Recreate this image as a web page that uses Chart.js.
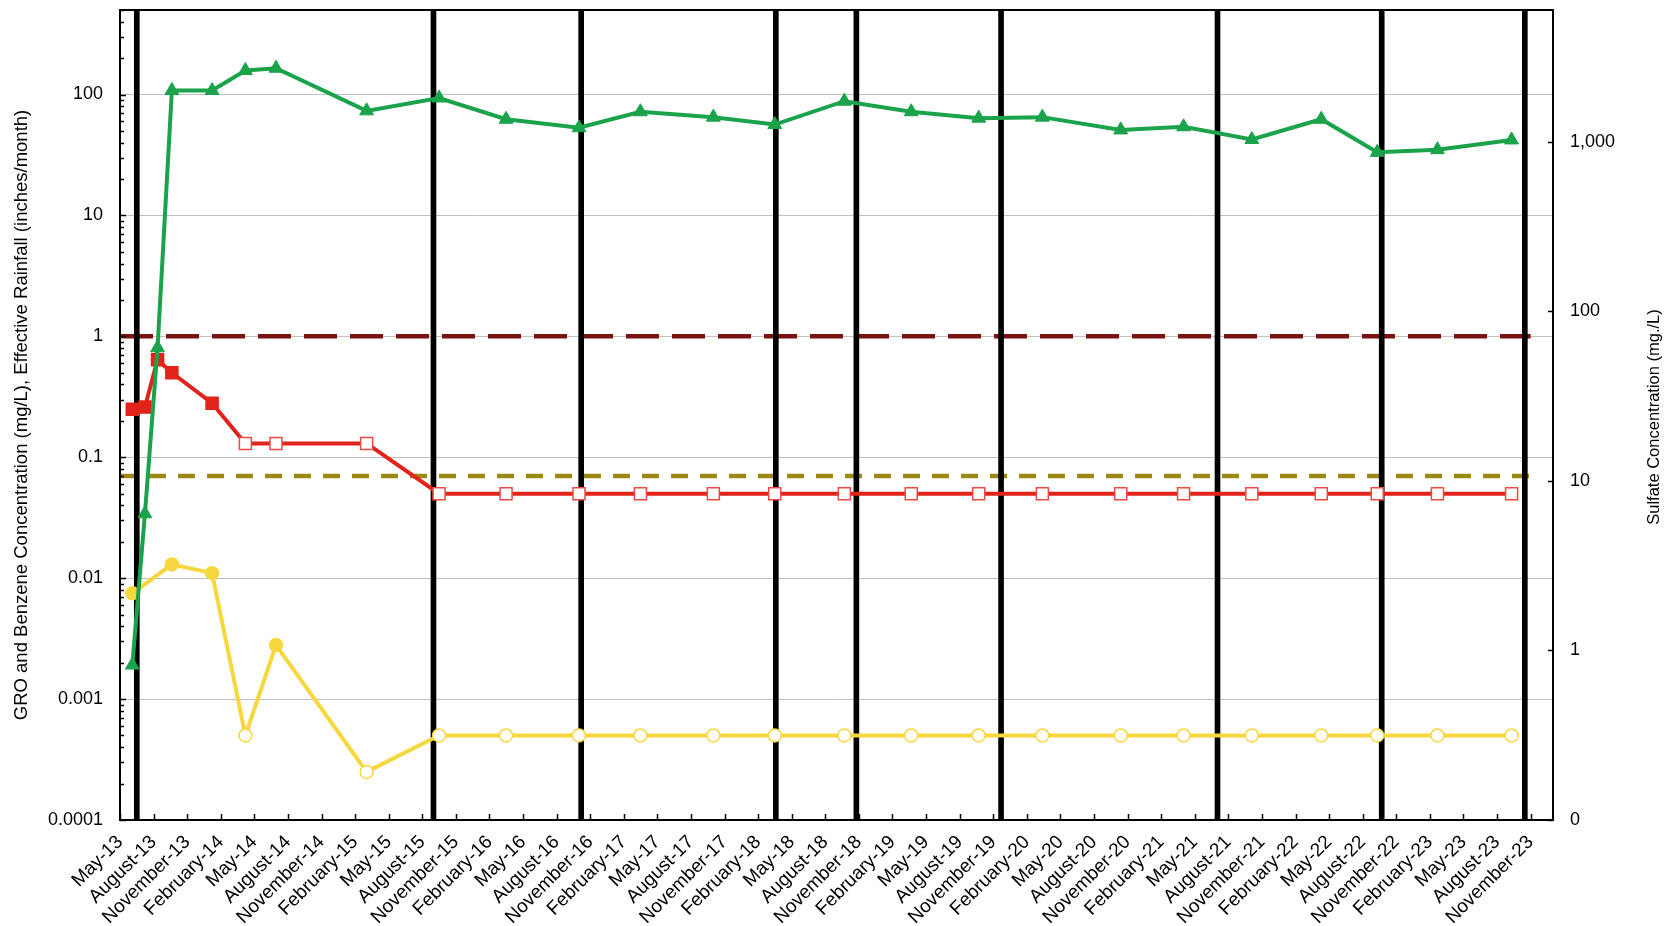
<!DOCTYPE html>
<html>
<head>
<meta charset="utf-8">
<script src="https://cdn.jsdelivr.net/npm/chart.js@4/dist/chart.umd.min.js"></script>
<style>
  html, body { margin: 0; padding: 0; background: #fff; }
  #wrap { width: 1672px; height: 926px; position: relative; }
</style>
</head>
<body>
<div id="wrap"><canvas id="chart" width="1672" height="926"></canvas></div>
<script>
// Monitoring-well sampling events
const sampleDates = [
  '2013-06-04', '2013-07-08', '2013-08-12', '2013-09-20', '2014-01-08',
  '2014-04-07', '2014-06-29', '2015-03-02', '2015-09-16', '2016-03-16',
  '2016-10-01', '2017-03-16', '2017-10-01', '2018-03-16', '2018-09-22',
  '2019-03-22', '2019-09-22', '2020-03-13', '2020-10-13', '2021-04-01',
  '2021-10-04', '2022-04-10', '2022-09-10', '2023-02-20', '2023-09-10'
];

// GRO (mg/L); false = not detected, plotted at the reporting limit
const groValues = [
  0.25, 0.26, 0.64, 0.5, 0.28, 0.13, 0.13, 0.13, 0.05, 0.05,
  0.05, 0.05, 0.05, 0.05, 0.05, 0.05, 0.05, 0.05, 0.05, 0.05,
  0.05, 0.05, 0.05, 0.05, 0.05
];
const groDetected = [
  true, true, true, true, true, false, false, false, false, false,
  false, false, false, false, false, false, false, false, false, false,
  false, false, false, false, false
];

// Benzene (mg/L)
const benzeneValues = [
  0.0075, null, null, 0.013, 0.011, 0.0005, 0.0028, 0.00025, 0.0005, 0.0005,
  0.0005, 0.0005, 0.0005, 0.0005, 0.0005, 0.0005, 0.0005, 0.0005, 0.0005, 0.0005,
  0.0005, 0.0005, 0.0005, 0.0005, 0.0005
];
const benzeneDetected = [
  true, false, false, true, true, false, true, false, false, false,
  false, false, false, false, false, false, false, false, false, false,
  false, false, false, false, false
];

// Sulfate (mg/L), right axis
const sulfateValues = [
  0.82, 6.4, 61, 2010, 2010, 2640, 2720, 1525, 1815, 1360,
  1212, 1506, 1400, 1266, 1738, 1506, 1380, 1400, 1177, 1228,
  1033, 1360, 868, 900, 1027
];

// Effective rainfall (inches/month) – months that run off the top of the axis
const rainfallDates = [
  '2013-06-16', '2015-09-01', '2016-10-07', '2018-03-19', '2018-10-25',
  '2019-11-22', '2021-07-02', '2022-09-22', '2023-10-16'
];
const rainfallValues = [500, 500, 500, 500, 500, 500, 500, 500, 500];

// Reference levels (mg/L)
const groLevel = 1;
const benzeneLevel = 0.07;
const levelSpan = ['2013-05-01', '2023-11-01'];

// Axis labels
const quarterLabels = [
  'May-13', 'August-13', 'November-13', 'February-14', 'May-14', 'August-14',
  'November-14', 'February-15', 'May-15', 'August-15', 'November-15', 'February-16',
  'May-16', 'August-16', 'November-16', 'February-17', 'May-17', 'August-17',
  'November-17', 'February-18', 'May-18', 'August-18', 'November-18', 'February-19',
  'May-19', 'August-19', 'November-19', 'February-20', 'May-20', 'August-20',
  'November-20', 'February-21', 'May-21', 'August-21', 'November-21', 'February-22',
  'May-22', 'August-22', 'November-22', 'February-23', 'May-23', 'August-23',
  'November-23'
];
const leftTicks = [0.0001, 0.001, 0.01, 0.1, 1, 10, 100];
const leftTickLabels = ['0.0001', '0.001', '0.01', '0.1', '1', '10', '100'];
const rightTicks = [0.1, 1, 10, 100, 1000];
const rightTickLabels = ['0', '1', '10', '100', '1,000'];

const leftTitle = 'GRO and Benzene Concentration (mg/L), Effective Rainfall (inches/month)';
const rightTitle = 'Sulfate Concentration (mg./L)';

// months elapsed since 1 May 2013
function monthIndex(d) {
  const [y, m, day] = d.split('-').map(Number);
  const dim = new Date(y, m, 0).getDate();
  return (y - 2013) * 12 + (m - 5) + (day - 1) / dim;
}
const xs = sampleDates.map(monthIndex);
const pts = (vals) => vals.map((v, i) => ({ x: xs[i], y: v }));

const FONT = '"Liberation Sans", Arial, sans-serif';
const GREEN = '#1AA34A';
const RED = '#E2231A';
const YELLOW = '#F7D73F';
const DARKRED = '#7A1212';
const OLIVE = '#9C8A14';

const frameAndTicks = {
  id: 'frameAndTicks',
  afterDraw(chart) {
    const { ctx, chartArea: a } = chart;
    const yl = chart.scales.y, yr = chart.scales.ySulfate, x = chart.scales.x;
    ctx.save();
    ctx.strokeStyle = '#000';
    ctx.lineWidth = 1.5;
    ctx.beginPath();
    // left axis: minor ticks inside
    for (let e = -4; e <= 2; e++) {
      for (let k = 1; k <= 9; k++) {
        const v = k * Math.pow(10, e);
        if (v > yl.max * 1.0001) continue;
        const py = Math.round(yl.getPixelForValue(v)) + 0.5;
        ctx.moveTo(a.left, py);
        ctx.lineTo(a.left + (k === 1 ? 6 : 4), py);
      }
    }
    // right axis ticks inside
    rightTicks.forEach(v => {
      const py = Math.round(yr.getPixelForValue(v)) + 0.5;
      ctx.moveTo(a.right, py);
      ctx.lineTo(a.right - 5, py);
    });
    // bottom axis ticks inside
    quarterLabels.forEach((_, i) => {
      const px = Math.round(x.getPixelForValue(i * 3)) + 0.5;
      ctx.moveTo(px, a.bottom);
      ctx.lineTo(px, a.bottom - 6);
    });
    ctx.stroke();
    ctx.lineWidth = 2;
    ctx.strokeRect(Math.round(a.left), Math.round(a.top), Math.round(a.right - a.left), Math.round(a.bottom - a.top));
    // right axis title, reading upward
    ctx.fillStyle = '#000';
    ctx.font = '16.5px ' + FONT;
    ctx.textAlign = 'center';
    ctx.textBaseline = 'alphabetic';
    ctx.translate(1659, 417);
    ctx.rotate(-Math.PI / 2);
    ctx.fillText(rightTitle, 0, 0);
    ctx.restore();
  }
};

new Chart(document.getElementById('chart'), {
  type: 'line',
  data: {
    datasets: [
      {
        label: 'Sulfate',
        yAxisID: 'ySulfate',
        data: pts(sulfateValues),
        borderColor: GREEN,
        backgroundColor: GREEN,
        borderWidth: 4,
        pointStyle: 'triangle',
        pointRadius: 8,
        pointBorderWidth: 1,
        pointBackgroundColor: GREEN,
        pointBorderColor: GREEN,
        order: 0
      },
      {
        label: 'GRO',
        yAxisID: 'y',
        data: pts(groValues),
        borderColor: RED,
        backgroundColor: RED,
        borderWidth: 4,
        pointStyle: 'rect',
        pointRadius: 8.5,
        pointBorderWidth: 1.5,
        pointBackgroundColor: groDetected.map(d => d ? RED : '#fff'),
        pointBorderColor: groDetected.map(d => d ? RED : '#EE4A44'),
        order: 0
      },
      {
        label: 'Benzene',
        yAxisID: 'y',
        data: pts(benzeneValues),
        spanGaps: true,
        borderColor: YELLOW,
        backgroundColor: YELLOW,
        borderWidth: 4,
        pointStyle: 'circle',
        pointRadius: 6.5,
        pointBorderWidth: 1.5,
        pointBackgroundColor: benzeneDetected.map(d => d ? YELLOW : '#fff'),
        pointBorderColor: YELLOW,
        order: 0
      },
      {
        type: 'bar',
        label: 'Effective Rainfall',
        yAxisID: 'y',
        data: rainfallDates.map((d, i) => ({ x: monthIndex(d), y: rainfallValues[i] })),
        backgroundColor: '#000',
        borderWidth: 0,
        barThickness: 5,
        order: 1
      },
      {
        label: 'GRO level',
        yAxisID: 'y',
        data: levelSpan.map(d => ({ x: monthIndex(d), y: groLevel })),
        borderColor: DARKRED,
        borderWidth: 4.5,
        borderDash: [33, 13],
        pointRadius: 0,
        order: 2
      },
      {
        label: 'Benzene level',
        yAxisID: 'y',
        data: levelSpan.map(d => ({ x: monthIndex(d), y: benzeneLevel })),
        borderColor: OLIVE,
        borderWidth: 4.5,
        borderDash: [17, 12],
        pointRadius: 0,
        order: 2
      }
    ]
  },
  options: {
    responsive: false,
    animation: false,
    devicePixelRatio: 1,
    layout: { padding: { top: 7, left: 0, right: 0, bottom: 0 } },
    plugins: { legend: { display: false }, tooltip: { enabled: false } },
    elements: { line: { tension: 0 } },
    scales: {
      x: {
        type: 'linear',
        position: 'bottom',
        min: 0,
        max: 128,
        offset: false,
        grid: { display: false, drawTicks: false },
        border: { display: false },
        afterBuildTicks: s => { s.ticks = quarterLabels.map((_, i) => ({ value: i * 3 })); },
        afterFit: s => { s.height = 106; s.paddingLeft = 0; s.paddingRight = 0; },
        ticks: {
          autoSkip: false,
          maxRotation: 45,
          minRotation: 45,
          padding: 11,
          color: '#000',
          font: { family: FONT, size: 19 },
          callback: (v, i) => quarterLabels[i]
        }
      },
      y: {
        type: 'logarithmic',
        position: 'left',
        min: 0.0001,
        max: 500,
        grid: { color: '#BFBFBF', lineWidth: 1, drawTicks: false },
        border: { display: false },
        afterBuildTicks: s => { s.ticks = leftTicks.map(v => ({ value: v })); },
        afterFit: s => { s.width = 120; s.paddingTop = 0; s.paddingBottom = 0; },
        ticks: {
          padding: 17,
          color: '#000',
          font: { family: FONT, size: 18 },
          callback: (v, i) => leftTickLabels[i]
        },
        title: {
          display: true,
          text: leftTitle,
          color: '#000',
          font: { family: FONT, size: 18.5 },
          padding: { top: 11, bottom: 0 }
        }
      },
      ySulfate: {
        type: 'logarithmic',
        position: 'right',
        min: 0.1,
        max: 6000,
        grid: { display: false, drawTicks: false },
        border: { display: false },
        afterBuildTicks: s => { s.ticks = rightTicks.map(v => ({ value: v })); },
        afterFit: s => { s.width = 119; s.paddingTop = 0; s.paddingBottom = 0; },
        ticks: {
          padding: 17,
          color: '#000',
          font: { family: FONT, size: 18 },
          callback: (v, i) => rightTickLabels[i]
        }
      }
    }
  },
  plugins: [frameAndTicks]
});
</script>
</body>
</html>
